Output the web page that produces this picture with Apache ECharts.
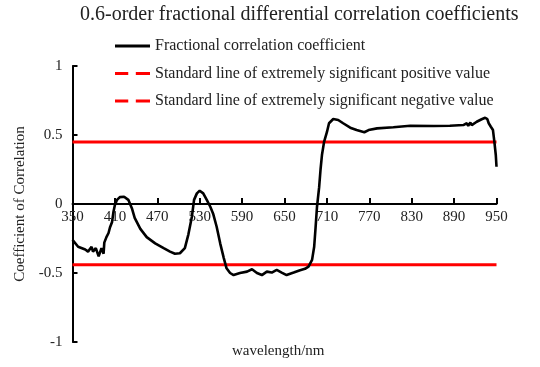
<!DOCTYPE html>
<html>
<head>
<meta charset="utf-8">
<script src="https://cdn.jsdelivr.net/npm/echarts@6/dist/echarts.min.js"></script>
<style>
  html, body { margin: 0; padding: 0; background: #fff; }
  #chart { width: 540px; height: 367px; }
</style>
</head>
<body>
<div id="chart"></div>
<script>
// Wavelengths (nm) and the 0.6-order fractional differential correlation coefficient
const wavelengths = [350, 358, 368, 372, 377, 379, 383, 387, 391, 394, 395, 398, 401, 403, 406, 408, 410,
  413, 417, 423, 429, 434, 438, 446, 455, 467, 479, 488, 495, 502, 509, 514, 519, 522, 526, 530, 535,
  540, 545, 549, 554, 559, 564, 568, 573, 578, 587, 597, 604, 611, 618, 625, 632, 639, 646, 653, 663,
  672, 679, 684, 689, 692, 694, 696, 699, 701, 703, 706, 710, 713, 719, 726, 733, 743, 752, 763, 769,
  781, 804, 828, 861, 884, 903, 908, 910, 913, 915, 922, 929, 934, 937, 939, 942, 945, 947, 949, 950];
const coefficients = [-0.26, -0.31, -0.33, -0.345, -0.31, -0.345, -0.32, -0.38, -0.32, -0.36, -0.28, -0.24, -0.21, -0.17, -0.13, -0.056, -0.007,
  0.03, 0.05, 0.053, 0.03, -0.03, -0.10, -0.18, -0.24, -0.285, -0.32, -0.345, -0.36, -0.357, -0.32, -0.22, -0.09, 0.03, 0.077, 0.096, 0.077,
  0.03, -0.02, -0.07, -0.165, -0.285, -0.39, -0.466, -0.50, -0.515, -0.50, -0.49, -0.473, -0.50, -0.515, -0.49, -0.497, -0.478, -0.497, -0.515, -0.497,
  -0.48, -0.47, -0.454, -0.405, -0.31, -0.17, -0.02, 0.12, 0.25, 0.355, 0.45, 0.52, 0.585, 0.616, 0.609, 0.585, 0.553, 0.536, 0.52, 0.536,
  0.548, 0.556, 0.567, 0.565, 0.567, 0.572, 0.585, 0.567, 0.59, 0.572, 0.596, 0.614, 0.625, 0.615, 0.585, 0.56, 0.536, 0.45, 0.355, 0.27];

// Significance thresholds
const positiveThreshold = 0.45;
const negativeThreshold = -0.44;
const xRange = [350, 950];
const yTicks = [-1, -0.5, 0, 0.5, 1];

const seriesNames = [
  'Fractional correlation coefficient',
  'Standard line of extremely significant positive value',
  'Standard line of extremely significant negative value'
];

const FONT = "'Liberation Serif', 'Times New Roman', serif";
const TEXT = '#222';
// legend swatches: a solid bar and a two-dash bar
const SOLID_ICON = 'path://M0,0H37V3H0Z';
const DASH_ICON = 'path://M0,0H14V3H0Z M22,0H37V3H22Z';

const curve = wavelengths.map((w, i) => [w, coefficients[i]]);
const posLine = xRange.map(w => [w, positiveThreshold]);
const negLine = xRange.map(w => [w, negativeThreshold]);

// Plot area; the wavelength labels sit in a companion grid whose bottom is the zero line
const PLOT = { left: 72.5, right: 43.5, top: 66, bottom: 25 };
const ZERO_Y = PLOT.top + (367 - PLOT.top - PLOT.bottom) / 2;

const chart = echarts.init(document.getElementById('chart'), null, { renderer: 'canvas' });
chart.setOption({
  animation: false,
  backgroundColor: '#fff',
  title: [
    {
      text: '0.6-order fractional differential correlation coefficients',
      left: 80, top: 5, padding: 0,
      textStyle: { fontFamily: FONT, fontSize: 20, fontWeight: 'normal', color: TEXT }
    },
    {
      text: 'wavelength/nm',
      left: 232, top: 344, padding: 0,
      textStyle: { fontFamily: FONT, fontSize: 15, fontWeight: 'normal', color: TEXT }
    }
  ],
  legend: {
    orient: 'vertical',
    left: 110, top: 33, padding: 5,
    itemWidth: 35, itemHeight: 14, itemGap: 11.5,
    textStyle: { fontFamily: FONT, fontSize: 16, color: TEXT },
    data: [
      { name: seriesNames[0], icon: SOLID_ICON, itemStyle: { color: '#000' } },
      { name: seriesNames[1], icon: DASH_ICON, itemStyle: { color: '#ff0000' } },
      { name: seriesNames[2], icon: DASH_ICON, itemStyle: { color: '#ff0000' } }
    ]
  },
  grid: [
    Object.assign({ containLabel: false, outerBoundsMode: 'none' }, PLOT),
    { left: PLOT.left, right: PLOT.right, top: PLOT.top, bottom: 367 - ZERO_Y, containLabel: false, outerBoundsMode: 'none' }
  ],
  xAxis: [
    {
      type: 'value', gridIndex: 0,
      min: xRange[0], max: xRange[1], interval: 60,
      axisLine: { onZero: true, lineStyle: { color: '#000', width: 2 } },
      axisTick: { inside: true, length: 6, lineStyle: { color: '#000', width: 2 } },
      axisLabel: { show: false },
      splitLine: { show: false }
    },
    {
      type: 'value', gridIndex: 1,
      min: xRange[0], max: xRange[1], interval: 60,
      axisLine: { show: false, onZero: false },
      axisTick: { show: false },
      axisLabel: { fontFamily: FONT, fontSize: 15, color: TEXT, margin: 6 },
      splitLine: { show: false }
    }
  ],
  yAxis: [
    {
      type: 'value', gridIndex: 0,
      min: yTicks[0], max: yTicks[yTicks.length - 1], interval: 0.5,
      name: 'Coefficient of Correlation',
      nameLocation: 'middle', nameGap: 44, nameRotate: 90,
      nameTextStyle: { fontFamily: FONT, fontSize: 15, color: TEXT },
      axisLine: { show: true, lineStyle: { color: '#000', width: 2 } },
      axisTick: { show: true, inside: true, length: 5, lineStyle: { color: '#000', width: 2 } },
      axisLabel: { fontFamily: FONT, fontSize: 15, color: TEXT, margin: 10 },
      splitLine: { show: false }
    },
    {
      type: 'value', gridIndex: 1, min: 0, max: 1, show: false
    }
  ],
  series: [
    {
      name: seriesNames[0], type: 'line', data: curve, z: 5,
      xAxisIndex: 0, yAxisIndex: 0,
      symbol: 'none', lineStyle: { color: '#000', width: 2.6 }, itemStyle: { color: '#000' }
    },
    {
      name: seriesNames[1], type: 'line', data: posLine, z: 3,
      xAxisIndex: 0, yAxisIndex: 0,
      symbol: 'none', lineStyle: { color: '#ff0000', width: 3 }, itemStyle: { color: '#ff0000' }
    },
    {
      name: seriesNames[2], type: 'line', data: negLine, z: 3,
      xAxisIndex: 0, yAxisIndex: 0,
      symbol: 'none', lineStyle: { color: '#ff0000', width: 3 }, itemStyle: { color: '#ff0000' }
    }
  ]
});
</script>
</body>
</html>
